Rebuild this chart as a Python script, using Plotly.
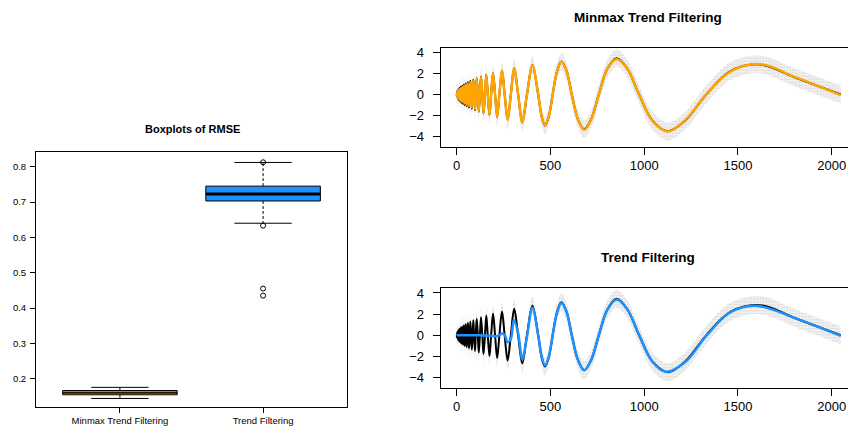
import plotly.graph_objects as go

# ---------------- Boxplot data (RMSE) ----------------
methods = ["Minmax Trend Filtering", "Trend Filtering"]
rmse_q1 = [0.1545, 0.703]
rmse_median = [0.1605, 0.723]
rmse_q3 = [0.1665, 0.745]
rmse_whisk_lo = [0.144, 0.640]
rmse_whisk_hi = [0.1755, 0.812]
rmse_outliers = [[], [0.8125, 0.633, 0.455, 0.435]]
box_colors = ["#FFA500", "#1E90FF"]

# ---------------- Doppler signal (key points) ----------------
true_x = [0, 1.2, 2.5, 3.8, 5.1, 6.5, 7.9, 9.3, 10.8, 12.3, 13.8, 15.4, 17.1, 18.7, 20.5,
          22.3, 24.1, 26.0, 27.9, 29.9, 32.0, 34.1, 36.3, 38.6, 41, 43.4, 46, 48.5, 51, 54,
          57, 60, 63, 66, 70, 73, 77, 81, 85, 89, 93, 98, 102, 107, 113, 118, 124, 130, 137,
          143, 151, 158, 166, 175, 184, 194, 205, 216, 228, 242, 256, 272, 289, 307, 328,
          350, 375, 404, 435, 453, 471, 491, 512, 535, 559, 586, 614, 646, 680, 717, 758,
          803, 853, 910, 973, 1044, 1126, 1221, 1331, 1462, 1618, 1809, 2048]
true_y = [0, -0.17, 0, 0.30, 0, -0.39, 0, 0.47, 0, -0.54, 0, 0.61, 0, -0.67, 0,
          0.73, 0, -0.78, 0, 0.84, 0, -0.90, 0, 0.95, 0, -1.01, 0, 1.06, 0, -1.12,
          0, 1.18, 0, -1.24, 0, 1.30, 0, -1.36, 0, 1.43, 0, -1.49, 0, 1.56, 0, -1.63, 0, 1.71, 0,
          -1.79, 0, 1.87, 0, -1.96, 0, 2.05, 0, -2.15, 0, 2.26, 0, -2.37, 0, 2.50, 0,
          -2.64, 0, 2.78, 0, -2.05, -2.95, -2.11, 0, 2.17, 3.12, 2.24, 0, -2.30, -3.30, -2.36, 0,
          2.42, 3.45, 2.46, 0, -2.47, -3.48, -2.43, 0, 2.24, 2.85, 1.59, 0]

# Minmax trend filtering fit (same abscissae as the signal key points)
mm_y = [0, -0.12, 0, 0.22, 0, -0.30, 0, 0.38, 0, -0.44, 0, 0.50, 0, -0.55, 0,
        0.60, 0, -0.65, 0, 0.70, 0, -0.76, 0, 0.80, 0, -0.86, 0, 0.92, 0, -0.98,
        0, 1.04, 0, -1.10, 0, 1.16, 0, -1.24, 0, 1.32, 0, -1.40, 0, 1.50, 0, -1.58, 0, 1.66, 0,
        -1.76, 0, 1.84, 0, -1.94, 0, 2.03, 0, -2.13, 0, 2.24, 0, -2.36, 0, 2.48, 0,
        -2.62, 0, 2.76, 0, -2.05, -2.92, -2.10, 0, 2.15, 3.10, 2.22, 0, -2.32, -3.35, -2.38, 0,
        2.40, 3.38, 2.44, 0, -2.50, -3.50, -2.40, 0, 2.20, 2.88, 1.62, -0.05]

# Standard trend filtering fit
tf_x = [0, 60, 120, 180, 210, 228, 242, 256, 272, 289, 305, 328, 350, 375, 404, 435, 453,
        471, 491, 512, 535, 559, 586, 614, 646, 680, 717, 758, 803, 853, 910, 973, 1044,
        1115, 1221, 1331, 1462, 1595, 1809, 2048]
tf_y = [0, 0.01, 0.0, -0.05, -0.08, 0.0, 0.18, 0.05, -0.65, -0.35, 1.45, 0.2, -2.25, -0.15,
        2.6, 0.0, -1.95, -2.85, -2.05, 0.0, 2.1, 3.05, 2.2, 0.0, -2.25, -3.3, -2.35, 0.0,
        2.38, 3.38, 2.45, 0.05, -2.5, -3.45, -2.5, -0.05, 2.2, 2.8, 1.6, -0.05]

noise_halfwidth = 0.85   # vertical spread of the noisy observations around the signal

x_ticks = [0, 500, 1000, 1500, 2000]
y_ticks = [-4, -2, 0, 2, 4]
rmse_ticks = [0.2, 0.3, 0.4, 0.5, 0.6, 0.7, 0.8]

FONT = "Liberation Sans, Arial, Helvetica, sans-serif"

fig = go.Figure()

# ---------------- Boxplot panel ----------------
half = 0.4
median_widths = [2, 3]
for i, name in enumerate(methods):
    p = i + 1
    fig.add_trace(go.Scatter(x=[p, p, None, p, p],
                             y=[rmse_q3[i], rmse_whisk_hi[i], None, rmse_q1[i], rmse_whisk_lo[i]],
                             mode="lines", line=dict(color="black", width=1, dash="3px,2px"),
                             xaxis="x", yaxis="y", showlegend=False, hoverinfo="skip"))
    fig.add_trace(go.Scatter(x=[p - half / 2, p + half / 2, None, p - half / 2, p + half / 2],
                             y=[rmse_whisk_hi[i], rmse_whisk_hi[i], None, rmse_whisk_lo[i], rmse_whisk_lo[i]],
                             mode="lines", line=dict(color="black", width=1),
                             xaxis="x", yaxis="y", showlegend=False, hoverinfo="skip"))
    fig.add_trace(go.Scatter(x=[p - half, p + half, p + half, p - half, p - half],
                             y=[rmse_q1[i], rmse_q1[i], rmse_q3[i], rmse_q3[i], rmse_q1[i]],
                             mode="lines", fill="toself", fillcolor=box_colors[i],
                             line=dict(color="black", width=1),
                             xaxis="x", yaxis="y", showlegend=False, name=name))
    fig.add_trace(go.Scatter(x=[p - half, p + half], y=[rmse_median[i], rmse_median[i]],
                             mode="lines", line=dict(color="black", width=median_widths[i]),
                             opacity=0.85 if i == 0 else 1.0,
                             xaxis="x", yaxis="y", showlegend=False, hoverinfo="skip"))
    if rmse_outliers[i]:
        fig.add_trace(go.Scatter(x=[p] * len(rmse_outliers[i]), y=rmse_outliers[i],
                                 mode="markers",
                                 marker=dict(symbol="circle-open", size=5, color="black",
                                             line=dict(width=1)),
                                 xaxis="x", yaxis="y", showlegend=False))

# ---------------- Signal panels ----------------
def add_signal_panel(xa, ya, fit_x, fit_y, fit_color):
    upper = [v + noise_halfwidth for v in true_y]
    lower = [v - noise_halfwidth for v in true_y]
    fig.add_trace(go.Scatter(x=true_x, y=lower, mode="lines", line=dict(width=0, shape="spline"),
                             xaxis=xa, yaxis=ya, showlegend=False, hoverinfo="skip"))
    fig.add_trace(go.Scatter(x=true_x, y=upper, mode="lines", line=dict(width=0, shape="spline"),
                             fill="tonexty", fillcolor="rgba(0,0,0,0)",
                             fillpattern=dict(shape=".", fgcolor="#B8B8B8", bgcolor="rgba(0,0,0,0)",
                                              size=3, solidity=0.6),
                             xaxis=xa, yaxis=ya, showlegend=False, hoverinfo="skip"))
    fig.add_trace(go.Scatter(x=true_x, y=true_y, mode="lines",
                             line=dict(color="black", width=2, shape="spline"),
                             xaxis=xa, yaxis=ya, showlegend=False))
    fig.add_trace(go.Scatter(x=fit_x, y=fit_y, mode="lines",
                             line=dict(color=fit_color, width=2.5, shape="spline"),
                             xaxis=xa, yaxis=ya, showlegend=False))

add_signal_panel("x2", "y2", true_x, mm_y, "#FFA500")
add_signal_panel("x3", "y3", tf_x, tf_y, "#1E90FF")

axis_common = dict(showgrid=False, zeroline=False, showline=True, linecolor="black",
                   linewidth=1, ticks="outside", tickcolor="black", color="black",
                   automargin=False)

W, H = 848, 430


def px(v):
    return v / W


def py(v):
    return 1 - v / H


fig.update_layout(
    width=W, height=H,
    margin=dict(l=0, r=0, t=0, b=0, autoexpand=False),
    paper_bgcolor="white", plot_bgcolor="white",
    font=dict(family=FONT, color="black"),
    hovermode=False,
    xaxis=dict(domain=[px(36), px(347)], range=[0.414, 2.586], tickvals=[1, 2], ticktext=methods,
               ticklen=5, tickfont=dict(size=9.5), mirror=True, anchor="y", **axis_common),
    yaxis=dict(domain=[py(407), py(152)], range=[0.1199, 0.8416], tickvals=rmse_ticks,
               ticktext=[f"{v:.1f}" for v in rmse_ticks], ticklen=5, tickfont=dict(size=9.5),
               mirror=True, anchor="x", ticklabelstandoff=2, **axis_common),
    xaxis2=dict(domain=[px(440.7), 1.0], range=[-85, 2087], tickvals=x_ticks, ticklen=7,
                tickfont=dict(size=13), mirror=True, anchor="y2", ticklabeloverflow="allow",
                **axis_common),
    yaxis2=dict(domain=[py(146.7), py(47.7)], range=[-4.95, 4.44], tickvals=y_ticks,
                ticklen=7, tickfont=dict(size=13), anchor="x2", ticklabelstandoff=6, **axis_common),
    xaxis3=dict(domain=[px(440.7), 1.0], range=[-85, 2087], tickvals=x_ticks, ticklen=7,
                tickfont=dict(size=13), mirror=True, anchor="y3", ticklabeloverflow="allow",
                **axis_common),
    yaxis3=dict(domain=[py(387.7), py(288.3)], range=[-4.95, 4.44], tickvals=y_ticks,
                ticklen=7, tickfont=dict(size=13), anchor="x3", ticklabelstandoff=6, **axis_common),
    annotations=[
        dict(text="<b>Boxplots of RMSE</b>", x=px(192), y=py(129), xref="paper", yref="paper",
             showarrow=False, xanchor="center", yanchor="middle", font=dict(size=11)),
        dict(text="<b>Minmax Trend Filtering</b>", x=px(647.5), y=py(17), xref="paper",
             yref="paper", showarrow=False, xanchor="center", yanchor="middle",
             font=dict(size=13.5)),
        dict(text="<b>Trend Filtering</b>", x=px(647.5), y=py(257), xref="paper",
             yref="paper", showarrow=False, xanchor="center", yanchor="middle",
             font=dict(size=13.5)),
    ],
)

# remove the default page margin so the 848x430 figure fills the window exactly
fig.write_html("out.html",
               config={"displayModeBar": False, "staticPlot": True},
               post_script="document.body.style.margin='0';document.body.style.overflow='hidden';")
